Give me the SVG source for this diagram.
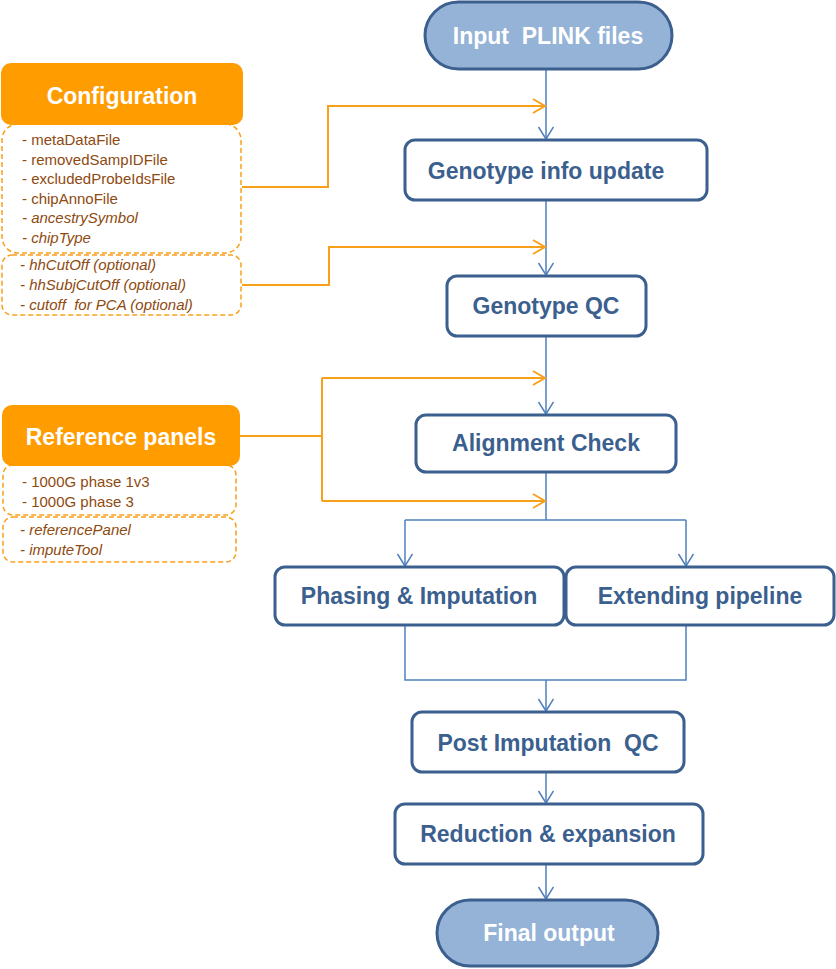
<svg xmlns="http://www.w3.org/2000/svg" width="836" height="969" viewBox="0 0 836 969">
<style>
.proc{fill:#fff;stroke:#3B5F8E;stroke-width:3}
.term{fill:#95B3D7;stroke:#3B5F8E;stroke-width:3}
.lbl{font-family:"Liberation Sans",Arial,sans-serif;font-weight:bold;font-size:23px;fill:#3B5F8E;text-anchor:middle;white-space:pre}
.tl{fill:#fff}
.hdr{fill:#FF9C00;stroke:none}
.dash{fill:#fff;stroke:#F9A01B;stroke-width:1.5;stroke-dasharray:5 3}
.item{font-family:"Liberation Sans",Arial,sans-serif;font-size:15px;fill:#8E4A10;white-space:pre}
.it{font-style:italic}
.blue{fill:none;stroke:#4F81BD;stroke-width:1.5}
.orange{fill:none;stroke:#F9A01B;stroke-width:2}
</style>
<defs>
<marker id="ab" markerUnits="userSpaceOnUse" markerWidth="16" markerHeight="18" refX="13" refY="8" orient="auto" viewBox="0 0 16 18">
<path d="M1,0.5 L13,8 L1,15.5" fill="none" stroke="#4F81BD" stroke-width="1.5"/>
</marker>
<marker id="ao" markerUnits="userSpaceOnUse" markerWidth="16" markerHeight="18" refX="13" refY="8" orient="auto" viewBox="0 0 16 18">
<path d="M1,1 L13,8 L1,15" fill="none" stroke="#F9A01B" stroke-width="2"/>
</marker>
</defs>

<g id="connectors">
<path class="blue" d="M546,70 V139" marker-end="url(#ab)"/>
<path class="blue" d="M546,200 V275" marker-end="url(#ab)"/>
<path class="blue" d="M546,336 V414" marker-end="url(#ab)"/>
<path class="blue" d="M546,472 V520 M405,520 H686"/>
<path class="blue" d="M405,520 V566" marker-end="url(#ab)"/>
<path class="blue" d="M686,520 V566" marker-end="url(#ab)"/>
<path class="blue" d="M405,625 V680 H686 V625"/>
<path class="blue" d="M546,680 V711" marker-end="url(#ab)"/>
<path class="blue" d="M546,772 V803" marker-end="url(#ab)"/>
<path class="blue" d="M546,864 V899" marker-end="url(#ab)"/>
<path class="orange" d="M242,187 H328 V106 H545" marker-end="url(#ao)"/>
<path class="orange" d="M242,285 H329 V247 H545" marker-end="url(#ao)"/>
<path class="orange" d="M240,436 H322 M322,378 V501"/>
<path class="orange" d="M322,378 H545" marker-end="url(#ao)"/>
<path class="orange" d="M322,501 H545" marker-end="url(#ao)"/>
</g>

<g id="input">
<rect class="term" x="425" y="2" width="247" height="67" rx="33.5"/>
<text class="lbl tl" x="548" y="44" xml:space="preserve">Input  PLINK files</text>
</g>
<g id="genoinfo">
<rect class="proc" x="405" y="140" width="302" height="60" rx="10"/>
<text class="lbl" x="546" y="179">Genotype info update</text>
</g>
<g id="genoqc">
<rect class="proc" x="447" y="276" width="199" height="60" rx="10"/>
<text class="lbl" x="546" y="314">Genotype QC</text>
</g>
<g id="align">
<rect class="proc" x="416" y="415" width="260" height="57" rx="10"/>
<text class="lbl" x="546" y="451">Alignment Check</text>
</g>
<g id="phasing">
<rect class="proc" x="275" y="567" width="289" height="58" rx="10"/>
<text class="lbl" x="419" y="604">Phasing &amp; Imputation</text>
</g>
<g id="extending">
<rect class="proc" x="566" y="567" width="268" height="58" rx="10"/>
<text class="lbl" x="700" y="604">Extending pipeline</text>
</g>
<g id="postqc">
<rect class="proc" x="412" y="712" width="272" height="60" rx="10"/>
<text class="lbl" x="548" y="751" xml:space="preserve">Post Imputation  QC</text>
</g>
<g id="reduction">
<rect class="proc" x="395" y="804" width="308" height="60" rx="10"/>
<text class="lbl" x="548" y="842">Reduction &amp; expansion</text>
</g>
<g id="final">
<rect class="term" x="437" y="900" width="221" height="66" rx="33"/>
<text class="lbl tl" x="549" y="941">Final output</text>
</g>

<g id="configuration">
<rect class="dash" x="2" y="124" width="239" height="129" rx="16"/>
<rect class="dash" x="2" y="255" width="239" height="60" rx="10"/>
<rect class="hdr" x="1" y="63" width="242" height="62" rx="10"/>
<text class="lbl tl" x="122" y="104">Configuration</text>
<text class="item" x="22" y="145">- metaDataFile</text>
<text class="item" x="22" y="164.5">- removedSampIDFile</text>
<text class="item" x="22" y="184">- excludedProbeIdsFile</text>
<text class="item" x="22" y="203.5">- chipAnnoFile</text>
<text class="item it" x="22" y="223">- ancestrySymbol</text>
<text class="item it" x="22" y="242.5">- chipType</text>
<text class="item it" x="20" y="270">- hhCutOff (optional)</text>
<text class="item it" x="20" y="290">- hhSubjCutOff (optional)</text>
<text class="item it" x="20" y="310" xml:space="preserve">- cutoff  for PCA (optional)</text>
</g>

<g id="refpanels">
<rect class="dash" x="3" y="465" width="233" height="50" rx="10"/>
<rect class="dash" x="3" y="517" width="233" height="45" rx="10"/>
<rect class="hdr" x="2" y="405" width="238" height="61" rx="10"/>
<text class="lbl tl" x="121" y="445">Reference panels</text>
<text class="item" x="22" y="487">- 1000G phase 1v3</text>
<text class="item" x="22" y="507">- 1000G phase 3</text>
<text class="item it" x="20" y="535">- referencePanel</text>
<text class="item it" x="20" y="555">- imputeTool</text>
</g>
</svg>
